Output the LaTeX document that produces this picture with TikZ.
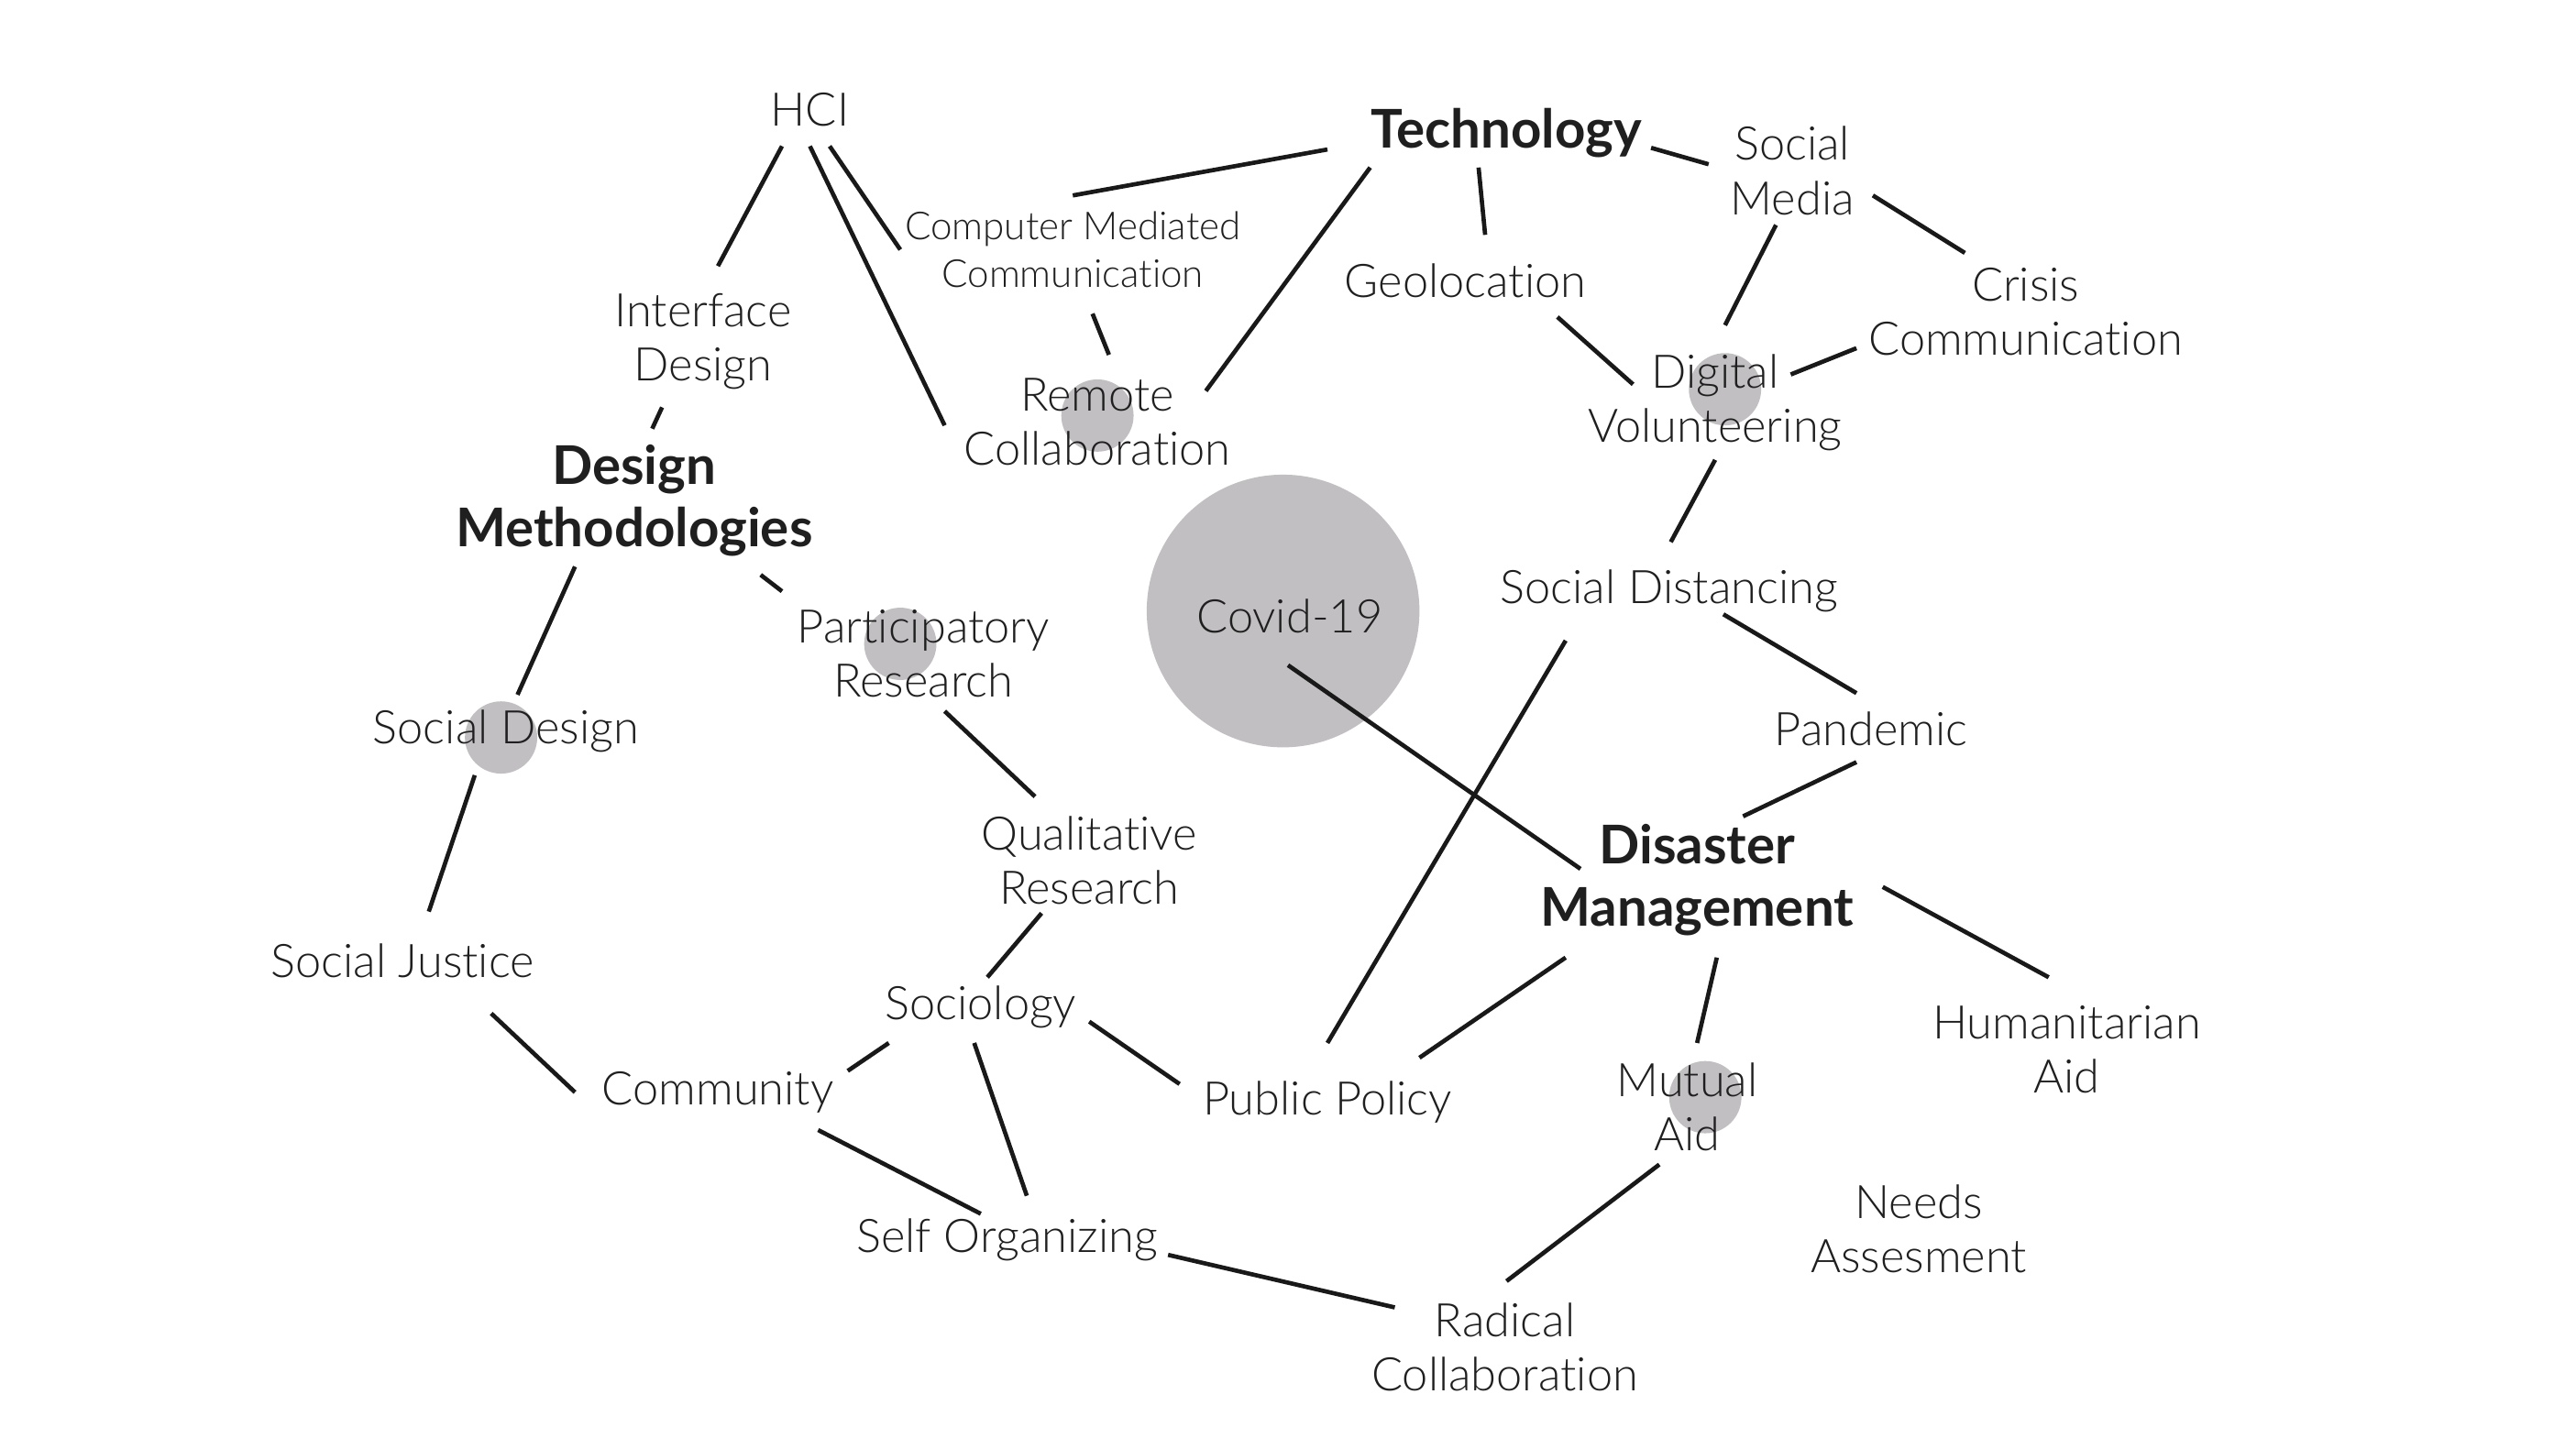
\documentclass[tikz,border=0pt]{standalone}
\usepackage{fontspec}
\setmainfont{Lato}[UprightFont=* Light, BoldFont=* Bold, Ligatures=NoCommon, RawFeature={-liga;-dlig}]
\begin{document}
\begin{tikzpicture}[x=1pt,y=-1pt,
  lbl/.style={inner sep=0pt, align=center, text=black!88, yshift=-1pt, font=\fontsize{28.2}{33}\selectfont},
  hub/.style={lbl, yshift=-1pt, font=\fontsize{32.5}{38}\selectfont\bfseries},
  small/.style={lbl, font=\fontsize{23.5}{29}\selectfont},
  blob/.style={fill=blobgray, draw=none},
  link/.style={line width=2.6pt, draw=black!90}]
\definecolor{blobgray}{RGB}{193,191,193}
\useasboundingbox (0,0) rectangle (1568,882);
% grey discs
\fill[blob] (781,372) circle (83);
\fill[blob] (1050,237) circle (22);
\fill[blob] (668,253) circle (22);
\fill[blob] (548,392) circle (22);
\fill[blob] (305,449) circle (22);
\fill[blob] (1038,668) circle (22);
% nodes
\node[lbl] (hci) at (493,66) {HCI};
\node[hub] (tech) at (917,79) {Technology};
\node[lbl] (smedia) at (1091,103) {Social\\Media};
\node[small] (cmc) at (653,151) {Computer Mediated\\Communication};
\node[lbl] (geo) at (892,170) {Geolocation};
\node[lbl] (crisis) at (1233,189) {Crisis\\Communication};
\node[lbl] (iface) at (428,207) {Interface\\Design};
\node[lbl] (digital) at (1044,244) {Digital\\Volunteering};
\node[lbl] (remote) at (668,256) {Remote\\Collaboration};
\node[hub] (dm) at (386,303) {Design\\Methodologies};
\node[lbl] (sdist) at (1016,359) {Social Distancing};
\node[lbl] (covid) at (785,374) {Covid-19};
\node[lbl] (partic) at (562,397) {Participatory\\Research};
\node[lbl] (pandemic) at (1139,443) {Pandemic};
\node[lbl] (sdesign) at (308,444) {Social Design};
\node[lbl] (qual) at (663,523) {Qualitative\\Research};
\node[hub] (disaster) at (1033,534) {Disaster\\Management};
\node[lbl] (sjustice) at (245,584) {Social Justice};
\node[lbl] (sociology) at (597,612) {Sociology};
\node[lbl] (human) at (1258,638) {Humanitarian\\Aid};
\node[lbl] (community) at (437,664) {Community};
\node[lbl] (ppolicy) at (808,670) {Public Policy};
\node[lbl] (mutual) at (1027,673) {Mutual\\Aid};
\node[lbl] (needs) at (1168,747) {Needs\\Assesment};
\node[lbl] (selforg) at (613,754) {Self Organizing};
\node[lbl] (radical) at (916,819) {Radical\\Collaboration};
% connectors: end points given as offsets from the named nodes
\newcommand\lnk[4]{\draw[link] ([shift={#2}]#1.center) -- ([shift={#4}]#3.center);}
\begin{scope}[yshift=1pt]
\lnk{hci}{(-17,22)}{iface}{(9,-46)}
\lnk{hci}{(0,22)}{remote}{(-93,2)}
\lnk{hci}{(12,22)}{cmc}{(-105,0)}
\lnk{tech}{(-109,10)}{cmc}{(0,-33)}
\lnk{tech}{(-83,21)}{remote}{(66,-19)}
\lnk{tech}{(-17,21)}{geo}{(12,-28)}
\lnk{tech}{(88,9)}{smedia}{(-51,-4)}
\lnk{smedia}{(49,15)}{crisis}{(-37,-36)}
\lnk{smedia}{(-10,33)}{digital}{(6,-47)}
\lnk{geo}{(56,22)}{digital}{(-50,-11)}
\lnk{crisis}{(-103,22)}{digital}{(46,-17)}
\lnk{cmc}{(12,39)}{remote}{(7,-41)}
\lnk{iface}{(-25,40)}{dm}{(11,-44)}
\lnk{digital}{(0,35)}{sdist}{(1,-30)}
\lnk{dm}{(77,45)}{partic}{(-86,-38)}
\lnk{dm}{(-36,40)}{sdesign}{(7,-22)}
\lnk{sdist}{(33,14)}{pandemic}{(-9,-22)}
\lnk{sdist}{(-63,30)}{ppolicy}{(0,-36)}
\lnk{covid}{(-1,30)}{disaster}{(-71,-7)}
\lnk{pandemic}{(-9,20)}{disaster}{(28,-39)}
\lnk{partic}{(13,35)}{qual}{(-33,-39)}
\lnk{sdesign}{(-19,27)}{sjustice}{(16,-30)}
\lnk{disaster}{(113,4)}{human}{(-11,-44)}
\lnk{disaster}{(-80,47)}{ppolicy}{(56,-27)}
\lnk{disaster}{(12,47)}{mutual}{(6,-39)}
\lnk{qual}{(-29,32)}{sociology}{(4,-18)}
\lnk{sjustice}{(54,32)}{community}{(-87,0)}
\lnk{sociology}{(-56,22)}{community}{(79,-13)}
\lnk{sociology}{(66,9)}{ppolicy}{(-90,-11)}
\lnk{sociology}{(-4,22)}{selforg}{(12,-27)}
\lnk{community}{(61,23)}{selforg}{(-16,-16)}
\lnk{selforg}{(98,9)}{radical}{(-67,-24)}
\lnk{mutual}{(-17,35)}{radical}{(1,-40)}
\end{scope}
\end{tikzpicture}
\end{document}
